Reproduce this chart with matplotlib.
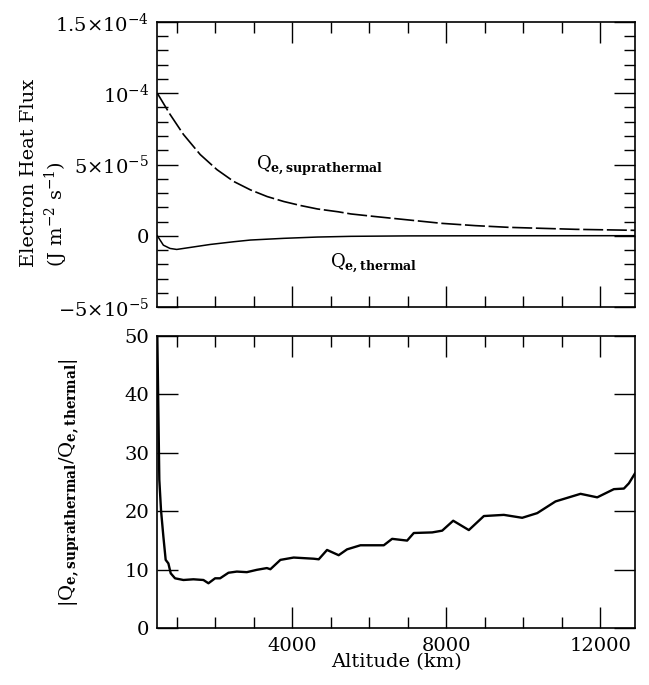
"""Electron heat flux vs altitude, with the suprathermal/thermal ratio below."""

import numpy as np
import matplotlib
matplotlib.use('Agg')
import matplotlib.pyplot as plt
from matplotlib.ticker import MultipleLocator, FixedLocator, FixedFormatter

# Top panel: heat flux curves (J m^-2 s^-1)
alt_supra = [500, 830, 1178, 1613, 2048, 2483, 2917, 3352, 3787, 4222, 4657,
             5200, 5526, 6148, 7018, 7887, 8757, 9627, 10497, 11366, 12498, 12900]
q_supra = [1.000e-4, 0.852e-4, 0.711e-4, 0.570e-4, 0.464e-4, 0.381e-4, 0.322e-4,
           0.275e-4, 0.240e-4, 0.212e-4, 0.188e-4, 0.168e-4, 0.153e-4, 0.135e-4,
           0.111e-4, 0.087e-4, 0.071e-4, 0.059e-4, 0.052e-4, 0.045e-4, 0.040e-4,
           0.038e-4]

alt_thermal = [500, 657, 830, 1004, 1352, 1874, 2483, 2917, 3787, 4657, 5526,
               7000, 9000, 12900]
q_thermal = [0.0, -0.066e-4, -0.089e-4, -0.096e-4, -0.082e-4, -0.061e-4,
             -0.042e-4, -0.030e-4, -0.018e-4, -0.009e-4, -0.004e-4, -0.001e-4,
             0.0, 0.0005e-4]

# Bottom panel: |Q_supra / Q_thermal|
alt_ratio = [500, 552, 596, 657, 717, 787, 848, 960, 1177, 1437, 1697, 1827,
             2000, 2130, 2347, 2564, 2824, 3084, 3344, 3435, 3695, 4040, 4560,
             4690, 4906, 5208, 5425, 5773, 6379, 6595, 6985, 7158, 7636, 7895,
             8181, 8587, 8977, 9496, 9972, 10362, 10837, 11486, 11920, 12352,
             12612, 12742, 12900]
ratio = [50.0, 25.4, 20.2, 15.7, 11.7, 11.1, 9.4, 8.55, 8.26, 8.38, 8.26, 7.7,
         8.55, 8.55, 9.5, 9.7, 9.6, 10.0, 10.3, 10.1, 11.7, 12.1, 11.9, 11.8,
         13.4, 12.5, 13.5, 14.2, 14.2, 15.3, 15.0, 16.3, 16.4, 16.7, 18.4, 16.8,
         19.2, 19.4, 18.9, 19.7, 21.7, 23.0, 22.4, 23.8, 23.9, 24.8, 26.5]

top_yticks = [-5e-5, 0, 5e-5, 1e-4, 1.5e-4]
top_ylabels = [r'$-5{\times}10^{-5}$', '0', r'$5{\times}10^{-5}$',
               r'$10^{-4}$', r'$1.5{\times}10^{-4}$']
x_major = [4000, 8000, 12000]


def style_axis(ax):
    ax.tick_params(which='both', direction='in', top=True, right=True,
                   width=1.0, labelsize=14, pad=6)
    ax.tick_params(which='major', length=15)
    ax.tick_params(which='minor', length=8)
    ax.xaxis.set_major_locator(FixedLocator(x_major))
    ax.xaxis.set_minor_locator(MultipleLocator(1000))
    for sp in ax.spines.values():
        sp.set_linewidth(1.2)


def main():
    plt.rcParams['font.family'] = 'DejaVu Serif'
    plt.rcParams['mathtext.fontset'] = 'dejavuserif'

    fig = plt.figure(figsize=(6.49, 6.85), dpi=100)
    ax1 = fig.add_axes([0.2424, 0.5518, 0.736, 0.4161])
    ax2 = fig.add_axes([0.2424, 0.0828, 0.736, 0.4267])

    # upper panel
    ax1.plot(alt_supra, q_supra, color='black', lw=1.2, dashes=(12, 2.2))
    ax1.plot(alt_thermal, q_thermal, color='black', lw=1.1)
    ax1.set_xlim(500, 12900)
    ax1.set_ylim(-5e-5, 1.5e-4)
    style_axis(ax1)
    ax1.yaxis.set_major_locator(FixedLocator(top_yticks))
    ax1.yaxis.set_major_formatter(FixedFormatter(top_ylabels))
    ax1.yaxis.set_minor_locator(MultipleLocator(1e-5))
    ax1.tick_params(axis='x', labelbottom=False)

    ax1.text(3050, 0.49e-4, r'$\mathrm{Q}_{\mathbf{e,suprathermal}}$',
             fontsize=13, ha='left', va='center')
    ax1.text(4985, -0.186e-4, r'$\mathrm{Q}_{\mathbf{e,thermal}}$',
             fontsize=13, ha='left', va='center')

    fig.text(29 / 649, 1 - 267 / 685, 'Electron Heat Flux', rotation=90,
             ha='center', va='bottom', fontsize=14)
    fig.text(56 / 649, 1 - 267 / 685, r'(J m$^{-2}$ s$^{-1}$)', rotation=90,
             ha='center', va='bottom', fontsize=14)

    # lower panel
    ax2.plot(alt_ratio, ratio, color='black', lw=1.7)
    ax2.set_xlim(500, 12900)
    ax2.set_ylim(0, 50)
    style_axis(ax2)
    ax2.yaxis.set_major_locator(MultipleLocator(10))
    ax2.set_xlabel('Altitude (km)', fontsize=14, labelpad=-1)

    fig.text(70 / 649, 1 - 483 / 685,
             r'$|\mathrm{Q}_{\mathbf{e,suprathermal}}/\mathrm{Q}_{\mathbf{e,thermal}}|$',
             rotation=90, ha='center', va='center', fontsize=14)

    fig.savefig('out.png', dpi=100)


if __name__ == '__main__':
    main()
